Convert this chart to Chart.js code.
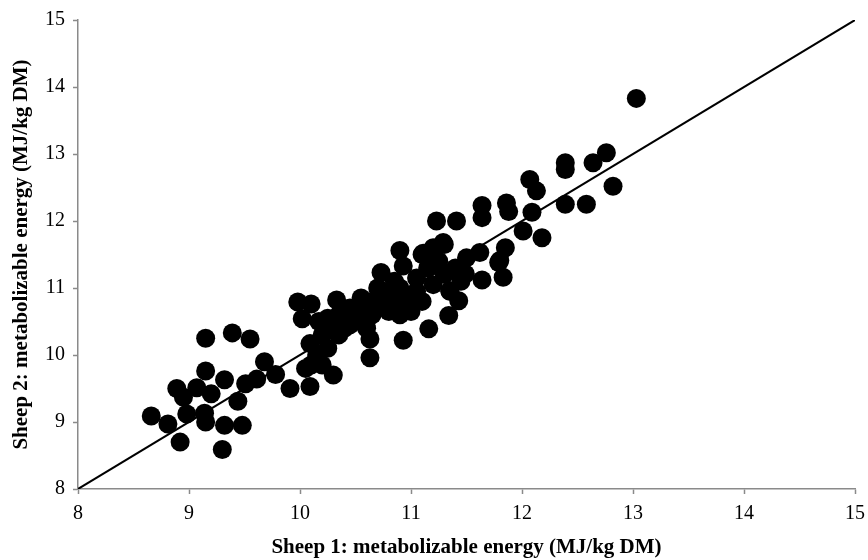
<!DOCTYPE html>
<html>
<head>
<meta charset="utf-8">
<script src="https://cdn.jsdelivr.net/npm/chart.js@4/dist/chart.umd.min.js"></script>
<style>
  html, body { margin: 0; padding: 0; background: #fff; }
  #wrap { width: 868px; height: 560px; }
</style>
</head>
<body>
<div id="wrap"><canvas id="out" width="868" height="560"></canvas></div>
<script>
// ME estimates, sheep 1 (x) vs sheep 2 (y), MJ/kg DM
const sheep1 = [
  9.15, 9.39, 9.55, 9.68, 9.78, 9.61, 9.51, 9.15, 9.32, 8.89, 9.07, 9.20,
  8.95, 9.44, 8.66, 8.98, 9.14, 8.81, 9.15, 9.32, 9.48, 8.92, 9.30, 9.91,
  10.09, 10.30, 10.09, 9.98, 10.10, 10.02, 10.33, 10.63, 10.63, 10.93, 10.73, 10.93,
  11.16, 11.34, 10.17, 10.90, 11.11, 11.29, 11.35, 11.43, 11.49, 11.62, 11.83, 11.64,
  11.79, 11.85, 11.80,
  11.64, 11.64, 11.23, 11.41, 11.86, 11.88, 12.09, 12.13, 12.07, 12.01, 12.18, 12.39,
  12.39, 12.64, 12.76, 12.82, 12.39, 12.58, 13.03,
  10.15, 10.20, 10.25, 10.30, 10.35, 10.40, 10.45, 10.50, 10.55, 10.60, 10.65, 10.70,
  10.75, 10.80, 10.85, 10.90, 10.95, 11.00, 11.05, 11.10, 11.15, 11.20, 11.25, 11.30,
  11.35, 11.40, 11.45, 11.50, 10.60, 10.90, 11.00, 10.45, 10.25, 10.80, 11.10, 10.70,
  11.20, 11.30, 10.35, 10.55, 10.20, 10.10, 10.05, 10.85, 11.05
];
const sheep2 = [
  10.25, 10.33, 10.24, 9.90, 9.71, 9.64, 9.57, 9.76, 9.63, 9.50, 9.51, 9.42,
  9.37, 9.31, 9.09, 9.12, 9.13, 8.97, 9.00, 8.95, 8.95, 8.70, 8.59, 9.50,
  9.53, 9.70, 10.17, 10.79, 10.76, 10.54, 10.82, 10.24, 9.96, 10.22, 11.23, 11.33,
  10.39, 10.59, 10.50, 11.56, 11.52, 11.68, 10.96, 10.81, 11.21, 11.53, 11.16, 11.12,
  11.38, 11.60, 11.41,
  12.23, 12.05, 12.00, 12.00, 12.27, 12.14, 12.13, 12.45, 12.62, 11.85, 11.75, 12.87,
  12.77, 12.87, 13.02, 12.52, 12.25, 12.25, 13.83,
  10.00, 10.30, 10.10, 10.45, 10.60, 10.40, 10.70, 10.50, 10.65, 10.80, 10.60, 10.75,
  10.90, 10.65, 10.85, 11.00, 10.70, 10.90, 11.15, 10.80, 11.30, 11.05, 11.40, 11.20,
  10.95, 11.30, 11.10, 11.45, 10.40, 10.60, 10.65, 10.45, 10.55, 10.95, 11.50, 11.00,
  11.60, 11.65, 10.30, 10.85, 9.85, 9.85, 9.80, 11.10, 10.95
];

// 1:1 reference line
const lineX = [8, 15];
const lineY = [8, 15];

const axisMin = 8;
const axisMax = 15;
const xTitle = "Sheep 1: metabolizable energy (MJ/kg DM)";
const yTitle = "Sheep 2: metabolizable energy (MJ/kg DM)";

const points = sheep1.map((x, i) => ({ x: x, y: sheep2[i] }));
const refLine = lineX.map((x, i) => ({ x: x, y: lineY[i] }));

const axisGray = "#8a8a8a";
const tickFont = { family: "Liberation Serif", size: 20 };
const titleFont = { family: "Liberation Serif", size: 21, weight: "bold" };

const ctx = document.getElementById("out").getContext("2d");
const chart = new Chart(ctx, {
  type: "scatter",
  data: {
    datasets: [
      {
        type: "line",
        data: refLine,
        borderColor: "#000",
        borderWidth: 2,
        pointRadius: 0,
        fill: false,
        order: 2
      },
      {
        data: points,
        backgroundColor: "#000",
        borderColor: "#000",
        borderWidth: 0,
        pointRadius: 9.5,
        pointHoverRadius: 9.5,
        order: 1
      }
    ]
  },
  options: {
    responsive: false,
    animation: false,
    devicePixelRatio: 1,
    layout: { padding: { top: 19, right: 13, bottom: 0, left: 0 } },
    plugins: {
      legend: { display: false },
      tooltip: { enabled: false }
    },
    scales: {
      x: {
        type: "linear",
        min: axisMin,
        max: axisMax,
        ticks: { stepSize: 1, color: "#000", font: tickFont, padding: 8 },
        grid: { drawOnChartArea: false, drawTicks: true, tickLength: 5, tickColor: axisGray, tickWidth: 1.5 },
        border: { color: axisGray, width: 1.5 },
        title: { display: true, text: xTitle, color: "#000", font: titleFont, padding: { top: 3, bottom: 0 } },
        afterFit: (scale) => {
          scale.height = 71;
          scale.paddingRight = 0; // "15" fits inside the 13px right margin
        }
      },
      y: {
        type: "linear",
        min: axisMin,
        max: axisMax,
        ticks: { stepSize: 1, color: "#000", font: tickFont, padding: 8 },
        grid: { drawOnChartArea: false, drawTicks: true, tickLength: 5, tickColor: axisGray, tickWidth: 1.5 },
        border: { color: axisGray, width: 1.5 },
        title: { display: true, text: yTitle, color: "#000", font: titleFont, padding: { top: 9, bottom: 0 } },
        afterFit: (scale) => { scale.width = 78; }
      }
    }
  }
});
</script>
</body>
</html>
